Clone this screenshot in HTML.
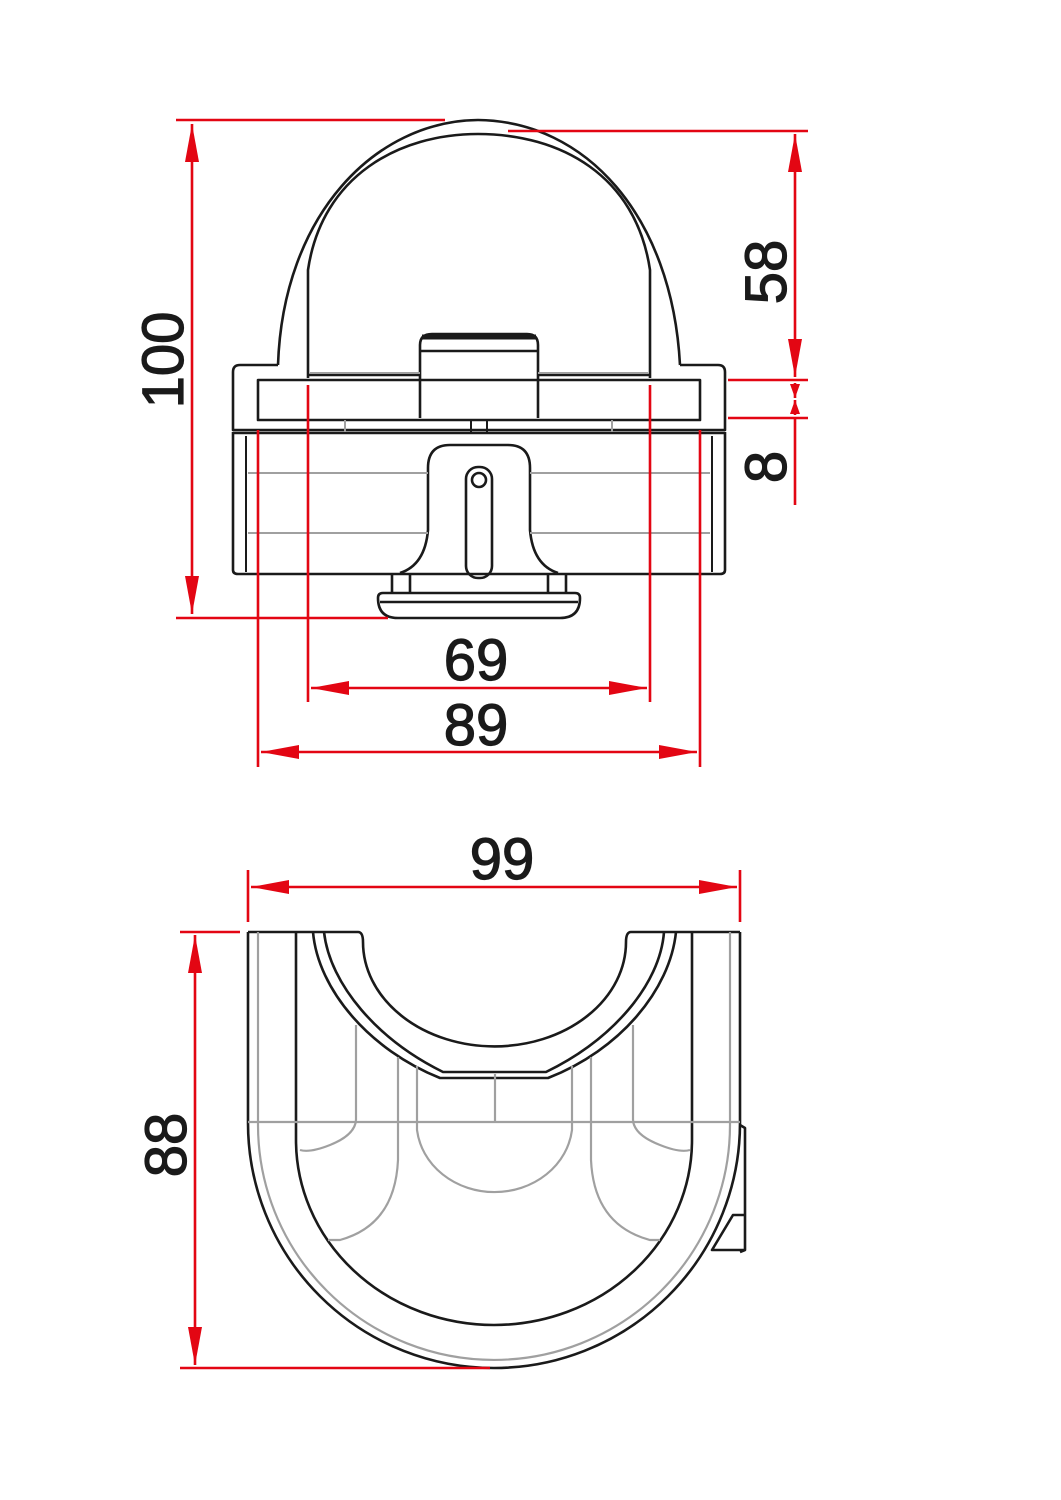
<!DOCTYPE html>
<html><head><style>html,body{margin:0;padding:0;background:#fff}svg{display:block}</style></head><body>
<svg width="1061" height="1500" viewBox="0 0 1061 1500" xmlns="http://www.w3.org/2000/svg">
<defs>
<marker id="a" viewBox="0 0 10 10" refX="10" refY="5" markerWidth="14" markerHeight="10" markerUnits="userSpaceOnUse" orient="auto-start-reverse" preserveAspectRatio="none">
<path d="M0,0 L10,5 L0,10 Z" fill="#e30613"/></marker>
<marker id="b" viewBox="0 0 10 10" refX="10" refY="5" markerWidth="38" markerHeight="14" markerUnits="userSpaceOnUse" orient="auto-start-reverse" preserveAspectRatio="none">
<path d="M0,0 L10,5 L0,10 Z" fill="#e30613"/></marker>
</defs>
<g fill="none" stroke="#1a1a1a" stroke-width="2.6" stroke-linejoin="round">
<!-- dome -->
<path d="M278,365 C283,215 375,121 478,120 C585,121 672,215 680,365"/>
<path d="M308,378 L308,270 C322,175 400,134 478,134 C560,134 636,175 650,270 L650,378"/>
<!-- flange -->
<path d="M278,365 L240,365 Q233,365 233,372 L233,430 L725,430 L725,372 Q725,365 718,365 L680,365"/>
<rect x="258" y="380" width="442" height="40"/>
<line x1="308" y1="375" x2="420" y2="375"/><line x1="538" y1="375" x2="650" y2="375"/>
<path d="M420,418 L420,345 Q420,334 432,334 L527,334 Q538,334 538,345 L538,418"/>
<line x1="422" y1="337" x2="536" y2="337" stroke-width="5"/>
<line x1="420" y1="351" x2="538" y2="351"/>
<!-- body -->
<path d="M233,432 L233,570 Q233,574 238,574 L720,574 Q725,574 725,570 L725,432"/>
<line x1="233" y1="433" x2="725" y2="433"/>
<line x1="246" y1="436" x2="246" y2="572" stroke-width="2"/><line x1="712" y1="436" x2="712" y2="572" stroke-width="2"/>
<line x1="471" y1="420" x2="471" y2="432" stroke-width="2"/><line x1="487" y1="420" x2="487" y2="432" stroke-width="2"/>
<!-- mount -->
<path d="M400,573 Q425,565 428,530 L428,468 Q428,445 450,445 L508,445 Q530,445 530,468 L530,530 Q533,565 558,573"/>
<rect x="466" y="467" width="26" height="111" rx="12"/>
<circle cx="479" cy="480" r="7"/>
<line x1="392" y1="574" x2="392" y2="593"/><line x1="410" y1="574" x2="410" y2="593"/>
<line x1="548" y1="574" x2="548" y2="593"/><line x1="566" y1="574" x2="566" y2="593"/>
<path d="M383,593 L575,593 Q580,593 580,598 Q580,618 560,618 L398,618 Q378,618 378,598 Q378,593 383,593 Z"/>
<line x1="380" y1="602" x2="578" y2="602"/>
</g>
<g stroke="#a0a0a0" stroke-width="2" fill="none">
<line x1="248" y1="473" x2="428" y2="473"/><line x1="530" y1="473" x2="710" y2="473"/>
<line x1="248" y1="533" x2="428" y2="533"/><line x1="530" y1="533" x2="710" y2="533"/>
<line x1="310" y1="373" x2="420" y2="373"/><line x1="538" y1="373" x2="648" y2="373"/>
<line x1="345" y1="420" x2="345" y2="432"/><line x1="612" y1="420" x2="612" y2="432"/>
</g>
<!-- bottom view -->
<g fill="none" stroke="#1a1a1a" stroke-width="2.6" stroke-linejoin="round">
<path d="M248,932 L248,1123 A246,245 0 0 0 740,1123 L740,932"/>
<path d="M248,932 L358,932 Q363,932 363,942 A131,104 0 0 0 626,942 Q626,932 631,932 L740,932"/>
<path d="M296,932 L296,1140 A198,185 0 0 0 692,1140 L692,932"/>
<path d="M313,932 C318,990 370,1050 440,1078 L548,1078 C620,1050 670,990 676,932"/>
<path d="M324,932 C330,985 378,1040 443,1072 L546,1072 C612,1040 660,985 664,932"/>
<path d="M740,1125 L745,1128 L745,1250 L740,1252"/>
<path d="M745,1215 L733,1215 L712,1250 L745,1250"/>
</g>
<g fill="none" stroke="#a0a0a0" stroke-width="2.2">
<path d="M258,932 L258,1125 A236,235 0 0 0 730,1125 L730,932"/>
<line x1="248" y1="1122" x2="740" y2="1122"/>
<line x1="356" y1="1025" x2="356" y2="1120"/><line x1="633" y1="1025" x2="633" y2="1120"/>
<line x1="398" y1="1057" x2="398" y2="1120"/><line x1="591" y1="1057" x2="591" y2="1120"/>
<line x1="417" y1="1066" x2="417" y2="1120"/><line x1="572" y1="1066" x2="572" y2="1120"/>
<line x1="495" y1="1074" x2="495" y2="1122"/>
<path d="M417,1120 L417,1130 A78,70 0 0 0 572,1130 L572,1120"/>
<path d="M356,1120 Q355,1135 330,1145 Q310,1153 300,1150"/>
<path d="M633,1120 Q634,1135 660,1145 Q680,1153 690,1150"/>
<path d="M398,1120 L398,1160 Q395,1225 340,1240 L328,1240"/>
<path d="M591,1120 L591,1160 Q594,1225 650,1240 L660,1240"/>
</g>
<!-- dimensions -->
<g stroke="#e30613" stroke-width="2.6" fill="none">
<line x1="176" y1="120" x2="445" y2="120"/>
<line x1="176" y1="618" x2="388" y2="618"/>
<line x1="192" y1="124" x2="192" y2="614" marker-start="url(#b)" marker-end="url(#b)"/>
<line x1="508" y1="131" x2="808" y2="131"/>
<line x1="728" y1="380" x2="808" y2="380"/>
<line x1="728" y1="418" x2="808" y2="418"/>
<line x1="795" y1="134" x2="795" y2="377" marker-start="url(#b)" marker-end="url(#b)"/>
<line x1="795" y1="383" x2="795" y2="398" marker-end="url(#a)"/>
<line x1="795" y1="415" x2="795" y2="400" marker-end="url(#a)"/>
<line x1="795" y1="418" x2="795" y2="505"/>
<line x1="308" y1="385" x2="308" y2="702"/><line x1="650" y1="385" x2="650" y2="702"/>
<line x1="311" y1="688" x2="647" y2="688" marker-start="url(#b)" marker-end="url(#b)"/>
<line x1="258" y1="430" x2="258" y2="767"/><line x1="700" y1="430" x2="700" y2="767"/>
<line x1="261" y1="752" x2="697" y2="752" marker-start="url(#b)" marker-end="url(#b)"/>
<line x1="248" y1="870" x2="248" y2="922"/><line x1="740" y1="870" x2="740" y2="922"/>
<line x1="251" y1="887" x2="737" y2="887" marker-start="url(#b)" marker-end="url(#b)"/>
<line x1="180" y1="932" x2="240" y2="932"/>
<line x1="180" y1="1368" x2="490" y2="1368"/>
<line x1="195" y1="935" x2="195" y2="1365" marker-start="url(#b)" marker-end="url(#b)"/>
</g>
<g font-family="Liberation Sans, sans-serif" font-size="58" fill="#1a1a1a" stroke="#1a1a1a" stroke-width="1.2" text-anchor="middle">
<text x="476" y="680">69</text>
<text x="476" y="745">89</text>
<text x="502" y="879">99</text>
<text transform="translate(183,360) rotate(-90)">100</text>
<text transform="translate(786,272) rotate(-90)">58</text>
<text transform="translate(786,467) rotate(-90)">8</text>
<text transform="translate(186,1145) rotate(-90)">88</text>
</g>
</svg>
</body></html>
